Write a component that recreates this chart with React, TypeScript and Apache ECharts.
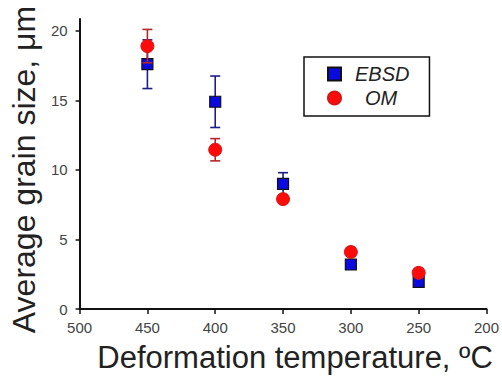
import React, { useEffect, useRef } from "react";
import * as echarts from "echarts";

const temps = [450, 400, 350, 300, 250];
const ebsd = [17.6, 14.9, 9.0, 3.2, 1.95];
const ebsdErr = [1.75, 1.85, 0.8, 0.3, 0.2];
const om = [18.9, 11.45, 7.9, 4.1, 2.6];
const omErr = [1.2, 0.8, 0.3, 0.3, 0.3];
const xTicks = [500, 450, 400, 350, 300, 250, 200];
const yTicks = [0, 5, 10, 15, 20];

const FONT = "Liberation Sans, Arial, sans-serif";

function errRender(color: string) {
  return (params: any, api: any) => {
    const x = api.value(0);
    const lo = api.coord([x, api.value(1)]);
    const hi = api.coord([x, api.value(2)]);
    const w = 5;
    const style = { stroke: color, lineWidth: 1.6 };
    return {
      type: "group",
      children: [
        { type: "line", shape: { x1: lo[0], y1: lo[1], x2: hi[0], y2: hi[1] }, style },
        { type: "line", shape: { x1: lo[0] - w, y1: lo[1], x2: lo[0] + w, y2: lo[1] }, style },
        { type: "line", shape: { x1: hi[0] - w, y1: hi[1], x2: hi[0] + w, y2: hi[1] }, style },
      ],
    };
  };
}

export default function App() {
  const ref = useRef<HTMLDivElement>(null);
  useEffect(() => {
    if (!ref.current) return;
    const chart = echarts.init(ref.current, null, { renderer: "svg" });
    const ebsdPts = temps.map((t, i) => [t, ebsd[i]]);
    const omPts = temps.map((t, i) => [t, om[i]]);
    const ebsdBars = temps.map((t, i) => [t, ebsd[i] - ebsdErr[i], ebsd[i] + ebsdErr[i]]);
    const omBars = temps.map((t, i) => [t, om[i] - omErr[i], om[i] + omErr[i]]);
    chart.setOption({
      animation: false,
      backgroundColor: "#ffffff",
      grid: { left: 76, right: 13, top: 19, bottom: 68 },
      legend: {
        data: ["EBSD", "OM"],
        orient: "vertical",
        left: 304,
        top: 57,
        padding: [7, 20, 8, 23],
        itemGap: 4,
        itemWidth: 13,
        itemHeight: 13,
        borderColor: "#111",
        borderWidth: 1.5,
        borderRadius: 0,
        formatter: (name: string) => (name === "OM" ? "{o|OM}" : "{e|EBSD}"),
        textStyle: {
          fontFamily: FONT,
          fontStyle: "italic",
          fontSize: 20,
          color: "#222",
          rich: {
            e: { fontFamily: FONT, fontStyle: "italic", fontSize: 20, color: "#222", padding: [0, 0, 0, 9] },
            o: { fontFamily: FONT, fontStyle: "italic", fontSize: 20, color: "#222", padding: [0, 0, 0, 19] },
          },
        },
      },
      xAxis: {
        type: "value",
        min: 200,
        max: 500,
        interval: 50,
        inverse: true,
        splitLine: { show: false },
        axisLine: { lineStyle: { color: "#111", width: 2 } },
        axisTick: { show: true, length: 5, lineStyle: { color: "#111", width: 1.5 }, customValues: xTicks },
        axisLabel: { margin: 11, fontSize: 15, color: "#444", fontFamily: FONT, customValues: xTicks },
        name: "Deformation temperature, ºC",
        nameLocation: "middle",
        nameGap: 33,
        nameTextStyle: { fontSize: 31, color: "#222", fontFamily: FONT, padding: [0, 0, 0, 24] },
      },
      yAxis: {
        type: "value",
        min: 0,
        max: 20.85,
        splitLine: { show: false },
        axisLine: { show: true, lineStyle: { color: "#111", width: 2 } },
        axisTick: { show: true, length: 4, lineStyle: { color: "#111", width: 1.5 }, customValues: yTicks },
        axisLabel: { margin: 12, fontSize: 15, color: "#444", fontFamily: FONT, customValues: yTicks },
        name: "Average grain size, μm",
        nameLocation: "middle",
        nameGap: 37,
        nameRotate: 90,
        nameTextStyle: { fontSize: 32, color: "#222", fontFamily: FONT, padding: [0, 11, 0, 0] },
      },
      series: [
        {
          name: "EBSD err",
          type: "custom",
          renderItem: errRender("#1c1c8a"),
          data: ebsdBars,
          encode: { x: 0, y: [1, 2] },
          z: 2,
        },
        {
          name: "EBSD",
          type: "scatter",
          data: ebsdPts,
          symbol: "rect",
          symbolSize: 11,
          itemStyle: { color: "#0a0ae0", borderColor: "#111", borderWidth: 1.2, opacity: 1 },
          z: 3,
        },
        {
          name: "OM err",
          type: "custom",
          renderItem: errRender("#b02828"),
          data: omBars,
          encode: { x: 0, y: [1, 2] },
          z: 4,
        },
        {
          name: "OM",
          type: "scatter",
          data: omPts,
          symbol: "circle",
          symbolSize: 13,
          itemStyle: { color: "#ff0a0a", borderColor: "#d01818", borderWidth: 1, opacity: 1 },
          z: 5,
        },
      ],
    });
    return () => chart.dispose();
  }, []);
  return <div ref={ref} style={{ width: 502, height: 378, position: "absolute", left: 0, top: 0 }} />;
}
